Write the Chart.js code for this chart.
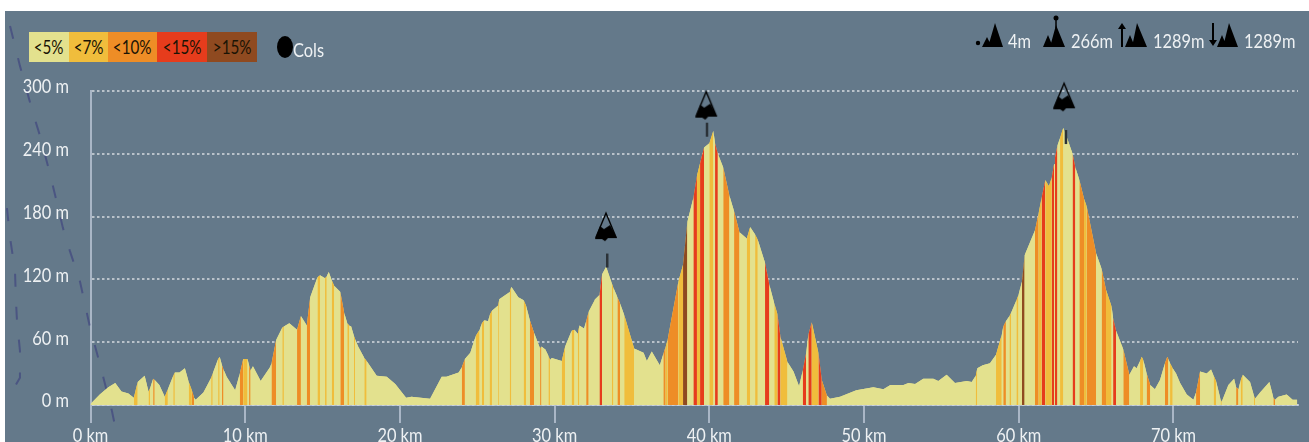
<!DOCTYPE html>
<html>
<head>
<meta charset="utf-8">
<title>Profil altimétrique</title>
<script src="https://cdn.jsdelivr.net/npm/chart.js@4"></script>
<style>
  html, body { margin: 0; padding: 0; background: #fff; overflow: hidden; }
  #page { position: relative; width: 1309px; height: 442px; filter: blur(0.55px); overflow: hidden; }
  #panel { position: absolute; left: 5px; top: 11px; right: 0; bottom: 0; background: #64798a; }
  #chartBox { position: absolute; left: 0; top: 0; width: 1309px; height: 442px; }
  #overlay { position: absolute; left: 0; top: 0; pointer-events: none; }
  .txt { position: absolute; font-family: Lato, sans-serif; font-size: 20px; line-height: 20px; color: #eef1f3; white-space: nowrap; transform: scaleX(0.82); transform-origin: left center; }
  #legend { position: absolute; left: 29px; top: 32px; height: 30px; display: flex; }
  #legend div { height: 30px; line-height: 30px; text-align: center; color: #1a1405; font-family: Lato, sans-serif; font-size: 19px; }
  #legend span { display: inline-block; transform: scaleX(0.8); }
  #colDot { position: absolute; left: 277px; top: 36px; width: 16px; height: 22px; border-radius: 50%; background: #000; }
</style>
</head>
<body>
<div id="page">
  <div id="panel"></div>
  <div id="chartBox"><canvas id="profileChart"></canvas></div>
  <div id="legend"></div>
  <div id="colDot"></div>
  <div class="txt" style="left:293px;top:39px">Cols</div>

  <!-- header summary icons -->
  <svg id="overlay" width="1309" height="442" fill="#000" stroke="#000">
    <circle cx="978" cy="43" r="2.2" stroke="none"/>
    <path stroke="none" d="M982 47 L987 37 L992 47 Z M988 47 L995 23 L1003 47 Z"/>
    <circle cx="1056" cy="18" r="2.5" stroke="none"/>
    <path d="M1056 18 V28" stroke-width="1.5"/>
    <path stroke="none" d="M1043 47 L1048 35 L1053 47 Z M1050 47 L1056 25 L1065 47 Z"/>
    <path d="M1122 47 V27" stroke-width="2"/>
    <path stroke="none" d="M1118 29 L1122 23 L1126 29 Z M1125 47 L1130 35 L1135 47 Z M1132 47 L1137 23 L1147 47 Z"/>
    <path d="M1213 23 V41" stroke-width="2"/>
    <path stroke="none" d="M1209 40 L1213 46 L1217 40 Z M1217 47 L1222 35 L1227 47 Z M1223 47 L1229 23 L1238 47 Z"/>
  </svg>
  <div class="txt" style="left:1008px;top:30px">4m</div>
  <div class="txt" style="left:1071px;top:30px">266m</div>
  <div class="txt" style="left:1153px;top:30px">1289m</div>
  <div class="txt" style="left:1244px;top:30px">1289m</div>
</div>

<script>
// Profile: point km, height m, grade class of the stretch ending at that point
const distKm = [
  0, 0.6, 1.15, 1.6, 2, 2.45, 2.8, 3.05, 3.5, 3.75,
  3.85, 4.05, 4.15, 4.45, 4.8, 5, 5.35, 5.45, 5.75, 6.1,
  6.35, 6.55, 6.7, 6.8, 7.3, 7.8, 7.9, 8.25, 8.35, 8.5,
  8.6, 8.8, 9.35, 9.65, 9.87, 10.15, 10.25, 10.35, 10.5, 11,
  11.6, 11.7, 12, 12.4, 12.5, 12.85, 13.35, 13.6, 13.98, 14.2,
  14.67, 14.84, 15.16, 15.27, 15.4, 15.6, 15.75, 16.15, 16.4, 16.6,
  16.72, 16.85, 17.03, 17.1, 17.3, 17.7, 17.85, 18.5, 19.15, 19.7,
  20.4, 20.75, 21.95, 22.7, 23, 23.8, 24, 24.2, 24.55, 24.9,
  25.15, 25.3, 25.45, 25.7, 25.8, 25.95, 26.35, 26.42, 27.1, 27.2,
  27.65, 28, 28.15, 28.4, 28.67, 29.06, 29.15, 29.4, 29.6, 29.7,
  29.82, 30.46, 30.68, 31.1, 31.28, 31.5, 31.6, 31.9, 32.04, 32.2,
  32.62, 32.9, 33.07, 33.33, 33.7, 33.8, 34.06, 34.23, 34.5, 35.14,
  35.75, 35.96, 36.28, 36.8, 37.03, 37.18, 37.3, 38, 38.3, 38.58,
  38.97, 39.2, 39.4, 39.66, 40, 40.26, 40.37, 40.55, 40.9, 41.3,
  41.6, 41.95, 42.42, 42.64, 42.96, 43.13, 43.6, 43.88, 44.2, 44.4,
  44.6, 45.05, 45.44, 45.8, 46.04, 46.26, 46.4, 46.62, 47.05, 47.27,
  47.6, 47.8, 48.45, 49.5, 50.6, 51.25, 51.7, 52.55, 52.87, 53.3,
  53.83, 54.48, 54.8, 55.34, 55.88, 56.64, 56.96, 57.22, 57.32, 57.67,
  58.14, 58.53, 58.9, 59, 59.17, 59.4, 59.5, 59.85, 59.98, 60.21,
  60.38, 61.05, 61.29, 61.48, 61.72, 61.95, 62.13, 62.28, 62.34, 62.5,
  62.67, 62.88, 63.1, 63.48, 63.66, 63.92, 64.22, 64.39, 65, 65.36,
  65.64, 66, 66.1, 66.29, 66.76, 67.15, 67.45, 67.62, 67.84, 67.95,
  68.05, 68.27, 68.5, 68.8, 69.13, 69.45, 69.6, 69.67, 69.78, 69.95,
  70.17, 70.43, 70.86, 71.29, 71.46, 71.72, 72.15, 72.43, 72.6, 72.75,
  73.05, 73.12, 73.55, 73.92, 74.05, 74.2, 74.35, 74.48, 74.95, 75.2,
  75.27, 75.6, 76.2, 76.46, 76.57, 76.78, 77.32, 77.7, 78
];
const elevM = [
  1, 10, 17, 21, 13, 11, 7, 22, 28, 13,
  16, 25, 24, 19, 8, 15, 28, 31, 31, 35,
  22, 14, 7, 5, 12, 26, 30, 44, 46, 38,
  34, 27, 14, 30, 44, 44, 38, 33, 37, 23,
  36, 40, 62, 74, 75, 78, 72, 85, 76, 103,
  122, 124, 121, 123, 127, 119, 114, 108, 88, 78,
  76, 75, 66, 63, 56, 45, 42, 28, 27, 20,
  7, 8, 6, 27, 27, 31, 36, 44, 50, 66,
  72, 78, 81, 80, 86, 90, 95, 101, 108, 113,
  103, 100, 95, 81, 69, 54, 56, 53, 47, 43,
  45, 42, 56, 71, 72, 68, 76, 73, 80, 89,
  101, 105, 125, 132, 116, 112, 103, 97, 86, 54,
  50, 42, 51, 38, 49, 56, 62, 118, 134, 175,
  198, 219, 231, 246, 250, 262, 250, 240, 227, 200,
  185, 165, 159, 170, 163, 158, 136, 115, 97, 87,
  65, 41, 32, 18, 33, 50, 67, 79, 50, 24,
  9, 6, 8, 14, 17, 15, 19, 19, 21, 20,
  25, 25, 23, 29, 21, 23, 22, 28, 35, 38,
  40, 48, 67, 75, 80, 85, 88, 100, 105, 118,
  143, 167, 184, 198, 215, 209, 217, 230, 236, 248,
  255, 265, 256, 240, 227, 215, 197, 190, 145, 130,
  110, 94, 83, 71, 53, 29, 37, 35, 42, 46,
  43, 30, 19, 15, 24, 40, 46, 44, 40, 35,
  30, 21, 10, 5, 12, 32, 30, 34, 28, 23,
  5, 3, 19, 25, 17, 15, 24, 29, 22, 9,
  6, 12, 22, 7, 5, 8, 10, 5, 5
];
const gradeClass = [
  0, 0, 0, 0, 0, 0, 0, 1, 0, 0,
  1, 0, 2, 0, 0, 1, 0, 1, 0, 0,
  0, 1, 2, 0, 0, 0, 1, 0, 1, 0,
  2, 0, 0, 0, 2, 1, 0, 2, 0, 0,
  0, 0, 2, 0, 1, 0, 0, 2, 0, 2,
  0, 1, 0, 1, 0, 0, 1, 0, 2, 0,
  1, 0, 0, 1, 0, 0, 1, 0, 0, 0,
  0, 0, 0, 0, 0, 0, 0, 2, 0, 0,
  1, 0, 1, 0, 0, 1, 0, 1, 0, 1,
  0, 0, 1, 0, 2, 0, 2, 0, 0, 1,
  0, 0, 1, 0, 1, 0, 1, 0, 0, 2,
  0, 0, 3, 0, 0, 1, 0, 2, 0, 1,
  0, 0, 0, 0, 0, 2, 1, 2, 1, 4,
  0, 3, 1, 3, 0, 1, 0, 3, 0, 2,
  0, 2, 0, 1, 0, 1, 0, 3, 0, 1,
  3, 1, 0, 0, 0, 3, 0, 3, 1, 3,
  2, 0, 0, 0, 0, 0, 0, 0, 0, 0,
  0, 0, 0, 0, 0, 0, 0, 0, 1, 0,
  0, 0, 1, 0, 2, 0, 1, 0, 1, 0,
  4, 0, 2, 1, 3, 1, 1, 3, 0, 3,
  0, 1, 0, 0, 3, 0, 2, 1, 2, 0,
  2, 1, 0, 3, 0, 2, 0, 0, 0, 1,
  1, 0, 2, 0, 0, 0, 2, 2, 0, 1,
  0, 0, 0, 0, 0, 2, 0, 0, 0, 1,
  0, 1, 0, 0, 0, 2, 0, 1, 0, 0,
  1, 0, 0, 0, 2, 0, 0, 0, 0
];

const gradeLabels = ['<5%', '<7%', '<10%', '<15%', '>15%'];
const gradeColors = ['#e3e18e', '#f0bd3c', '#ee8d26', '#e63c1c', '#8f4a20'];
const gradeWidths = [40, 39, 49, 50, 50];

const xTicks = [0, 10, 20, 30, 40, 50, 60, 70];
const yTicks = [0, 60, 120, 180, 240, 300];

// Cols: icon position, and the little stem above the summit
const colKm = [33.32, 39.8, 62.93];
const colIconM = [170, 286, 294];
const stemKm = [33.4, 39.85, 63.05];
const stemM = [138, 263, 256];

// The faint dashed route lines behind the profile, in km / m
const route1Km = [-5.2, -4.56, -3.72, -3.26, -2.62, -1.78, -1.33, -0.68, -0.03, 0.61, 1.39, 1.78];
const route1M = [362, 324, 279, 257, 221, 169, 147, 118, 74, 39, -6, -34];
const route2Km = [-5.4, -5.2, -4.88, -4.82, -4.75, -4.56, -4.56, -5.2, -5.33];
const route2M = [188, 160, 128, 100, 80, 52, 26, 10, 7];

// Legend strip
const legendEl = document.getElementById('legend');
gradeLabels.forEach((label, i) => {
  const cell = document.createElement('div');
  const inner = document.createElement('span');
  inner.textContent = label;
  cell.appendChild(inner);
  cell.style.width = gradeWidths[i] + 'px';
  cell.style.background = gradeColors[i];
  legendEl.appendChild(cell);
});

// Col marker: hollow triangle with a black snow-like base
function makeColIcon() {
  const c = document.createElement('canvas');
  c.width = 28;
  c.height = 34;
  const g = c.getContext('2d');
  g.strokeStyle = '#000';
  g.fillStyle = '#000';
  g.lineWidth = 1.4;
  g.beginPath();
  g.moveTo(14, 3);
  g.lineTo(4, 27);
  g.lineTo(24, 27);
  g.closePath();
  g.stroke();
  g.beginPath();
  g.moveTo(3, 29);
  g.lineTo(8, 16);
  g.lineTo(12, 19);
  g.lineTo(18, 15);
  g.lineTo(25, 28);
  g.lineTo(16, 28);
  g.lineTo(13, 31);
  g.lineTo(10, 29);
  g.closePath();
  g.fill();
  return c;
}
const colIcon = makeColIcon();

const routeLines = {
  id: 'routeLines',
  beforeDatasetsDraw(chart) {
    const { ctx, scales: { x, y } } = chart;
    ctx.save();
    ctx.strokeStyle = 'rgba(58, 62, 125, 0.6)';
    ctx.lineWidth = 2;
    ctx.setLineDash([13, 20]);
    [[route1Km, route1M], [route2Km, route2M]].forEach(([kms, ms]) => {
      ctx.beginPath();
      kms.forEach((km, i) => {
        const px = x.getPixelForValue(km);
        const py = y.getPixelForValue(ms[i]);
        if (i === 0) ctx.moveTo(px, py); else ctx.lineTo(px, py);
      });
      ctx.stroke();
    });
    ctx.restore();
  }
};

// Axis labels are squeezed sideways like the original, which Chart.js ticks can't do
const narrowLabels = {
  id: 'narrowLabels',
  afterDraw(chart) {
    const { ctx, scales: { x, y } } = chart;
    const put = (text, px, py, align) => {
      ctx.save();
      ctx.translate(px, py);
      ctx.scale(0.82, 1);
      ctx.textAlign = align;
      ctx.textBaseline = 'middle';
      ctx.fillStyle = '#eef1f3';
      ctx.font = '20px Lato, sans-serif';
      ctx.fillText(text, 0, 0);
      ctx.restore();
    };
    yTicks.forEach(v => put(v + ' m', 69, y.getPixelForValue(v) - 4, 'right'));
    xTicks.forEach(v => put(v + ' km', x.getPixelForValue(v), 436, 'center'));
  }
};

new Chart(document.getElementById('profileChart'), {
  type: 'line',
  data: {
    datasets: [{
      label: 'Cols',
      type: 'scatter',
      data: colKm.map((km, i) => ({ x: km, y: colIconM[i] })),
      pointStyle: colIcon,
      pointRadius: 14,
      clip: false,
      order: 0
    }, {
      label: 'Sommets',
      type: 'scatter',
      data: stemKm.map((km, i) => ({ x: km, y: stemM[i] })),
      pointStyle: 'line',
      rotation: 90,
      pointRadius: 7,
      pointBorderWidth: 2.5,
      pointBorderColor: '#2b3238',
      clip: false,
      order: 1
    }, {
      label: 'Altitude',
      data: distKm.map((km, i) => ({ x: km, y: elevM[i] })),
      parsing: false,
      borderWidth: 0,
      pointRadius: 0,
      tension: 0,
      fill: 'origin',
      backgroundColor: gradeColors[0],
      segment: {
        backgroundColor: ctx => gradeColors[gradeClass[ctx.p1DataIndex]]
      },
      order: 2
    }, {
      // plain layer under the coloured stretches, hides the seams between them
      label: 'Fond',
      data: distKm.map((km, i) => ({ x: km, y: elevM[i] })),
      parsing: false,
      borderWidth: 0,
      pointRadius: 0,
      tension: 0,
      fill: 'origin',
      backgroundColor: gradeColors[0],
      order: 3
    }]
  },
  options: {
    responsive: true,
    maintainAspectRatio: false,
    animation: false,
    layout: { autoPadding: false, padding: { top: 91, right: 11, left: 0, bottom: 0 } },
    plugins: { legend: { display: false }, tooltip: { enabled: false } },
    scales: {
      x: {
        type: 'linear',
        min: 0,
        max: 78.05,
        border: { color: 'rgba(205, 214, 228, 0.75)', width: 2 },
        grid: { drawOnChartArea: false, drawTicks: true, tickLength: 18, color: '#a9b6c6', lineWidth: 2 },
        ticks: { display: false, stepSize: 10, includeBounds: false },
        afterFit(scale) { scale.height = 37; }
      },
      y: {
        min: 0,
        max: 300,
        border: { color: '#a9b6c6', width: 2, dash: [2.5, 2.5] },
        grid: { color: 'rgba(255, 255, 255, 0.55)', lineWidth: 2, drawTicks: false },
        ticks: { display: false, stepSize: 60 },
        afterFit(scale) { scale.width = 90.5; }
      }
    }
  },
  plugins: [routeLines, narrowLabels]
});
</script>
</body>
</html>
